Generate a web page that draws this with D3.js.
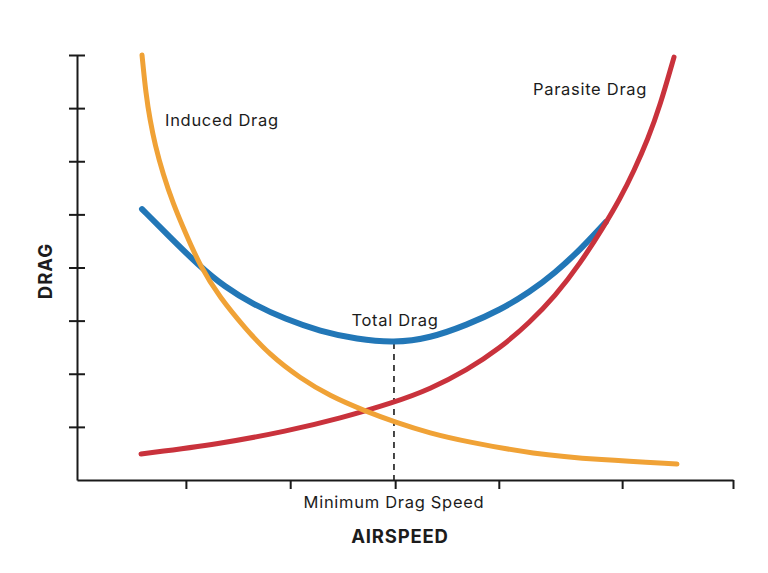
<!DOCTYPE html>
<html>
<head>
<meta charset="utf-8">
<script src="https://cdn.jsdelivr.net/npm/d3@7"></script>
<style>
  html, body { margin: 0; padding: 0; background: #fff; }
  svg { display: block; }
  text { font-family: Inter, "Noto Sans", sans-serif; fill: #1c1c1c; }
</style>
</head>
<body>
<svg id="chart" width="768" height="573"></svg>
<script>
// ---- data (airspeed in arbitrary units 0..100, drag in arbitrary units 0..8) ----
const xTickValues = [16.6, 32.5, 48.5, 64.3, 83.1, 100];
const xTickLabels = ["", "", "Minimum Drag Speed", "", "", ""];
const yTickValues = [1, 2, 3, 4, 5, 6, 7, 8];

const inducedSpeed = [9.91, 10.52, 11.13, 11.89, 13.11, 14.63, 16.46, 18.75, 21.80, 25.61, 29.42, 33.99, 38.57, 43.90, 48.48, 53.81, 59.45, 69.51, 79.73, 91.46];
const inducedDrag  = [8.0, 7.25, 6.78, 6.31, 5.76, 5.21, 4.67, 4.03, 3.43, 2.86, 2.35, 1.92, 1.58, 1.30, 1.09, 0.88, 0.72, 0.49, 0.38, 0.30];

const parasiteSpeed = [9.76, 21.80, 32.01, 40.09, 48.32, 53.81, 59.45, 64.48, 69.05, 72.87, 76.68, 80.34, 82.77, 84.91, 87.04, 88.87, 91.01];
const parasiteDrag  = [0.49, 0.68, 0.92, 1.16, 1.46, 1.71, 2.07, 2.48, 2.97, 3.46, 4.07, 4.78, 5.29, 5.82, 6.42, 7.04, 7.96];

const totalSpeed = [9.91, 14.18, 18.45, 22.56, 26.83, 31.71, 37.04, 42.68, 48.32, 53.81, 59.45, 64.48, 69.05, 72.87, 76.68, 80.64];
const totalDrag  = [5.10, 4.57, 4.05, 3.63, 3.31, 3.03, 2.80, 2.65, 2.58, 2.67, 2.92, 3.20, 3.54, 3.90, 4.33, 4.86];

const minDragSpeed = 48.32;
const minDragValue = 2.58;

const seriesNames = ["Total Drag", "Parasite Drag", "Induced Drag"];
const seriesColors = ["#2277b7", "#c9323c", "#f0a236"];

// ---- chart ----
const svg = d3.select("#chart");
const x = d3.scaleLinear().domain([0, 100]).range([77, 733]);
const y = d3.scaleLinear().domain([0, 8]).range([480, 55]);

const zip = (xs, ys) => xs.map((v, i) => [v, ys[i]]);
const line = d3.line().x(d => x(d[0])).y(d => y(d[1])).curve(d3.curveBasis);

// dashed min drag line
svg.append("line")
  .attr("x1", x(minDragSpeed)).attr("x2", x(minDragSpeed))
  .attr("y1", y(minDragValue)).attr("y2", y(0))
  .attr("stroke", "#1a1a1a").attr("stroke-width", 1.6)
  .attr("stroke-dasharray", "6,5");

const series = [
  zip(totalSpeed, totalDrag),
  zip(parasiteSpeed, parasiteDrag),
  zip(inducedSpeed, inducedDrag)
];
const widths = [6, 5, 5];
series.forEach((s, i) => {
  svg.append("path")
    .attr("d", line(s))
    .attr("fill", "none")
    .attr("stroke", seriesColors[i])
    .attr("stroke-width", widths[i])
    .attr("stroke-linecap", "round");
});

// axes
const xAxis = d3.axisBottom(x).tickValues(xTickValues).tickSizeInner(9).tickSizeOuter(0).tickFormat(() => "");
const gx = svg.append("g").attr("transform", `translate(0,${y(0)})`).call(xAxis);
gx.select(".domain").attr("stroke", "#1a1a1a").attr("stroke-width", 2);
gx.selectAll(".tick line").attr("stroke", "#1a1a1a").attr("stroke-width", 2);

const yAxis = d3.axisLeft(y).tickValues(yTickValues).tickSizeInner(8).tickSizeOuter(0).tickFormat(() => "");
const gy = svg.append("g").attr("transform", `translate(${x(0)},0)`).call(yAxis);
gy.select(".domain").attr("stroke", "#1a1a1a").attr("stroke-width", 2);
gy.selectAll(".tick line").attr("x1", 8).attr("x2", -8).attr("stroke", "#1a1a1a").attr("stroke-width", 2);

const labelStyle = sel => sel.attr("font-size", 16.5).attr("letter-spacing", 0.7);

// x tick label
svg.append("text")
  .attr("x", x(minDragSpeed)).attr("y", 508)
  .attr("text-anchor", "middle").call(labelStyle)
  .text(xTickLabels[2]);

// axis titles
svg.append("text")
  .attr("x", 400).attr("y", 543)
  .attr("text-anchor", "middle").attr("font-size", 18.5).attr("font-weight", 700).attr("letter-spacing", 0.8)
  .text("AIRSPEED");
svg.append("text")
  .attr("transform", "translate(52,271) rotate(-90)")
  .attr("text-anchor", "middle").attr("font-size", 18.5).attr("font-weight", 700).attr("letter-spacing", 1)
  .text("DRAG");

// series labels
svg.append("text").attr("x", 165).attr("y", 126).call(labelStyle).text(seriesNames[2]);
svg.append("text").attr("x", 533).attr("y", 95).call(labelStyle).text(seriesNames[1]);
svg.append("text").attr("x", 395).attr("y", 326).attr("text-anchor", "middle").call(labelStyle).text(seriesNames[0]);
</script>
</body>
</html>
